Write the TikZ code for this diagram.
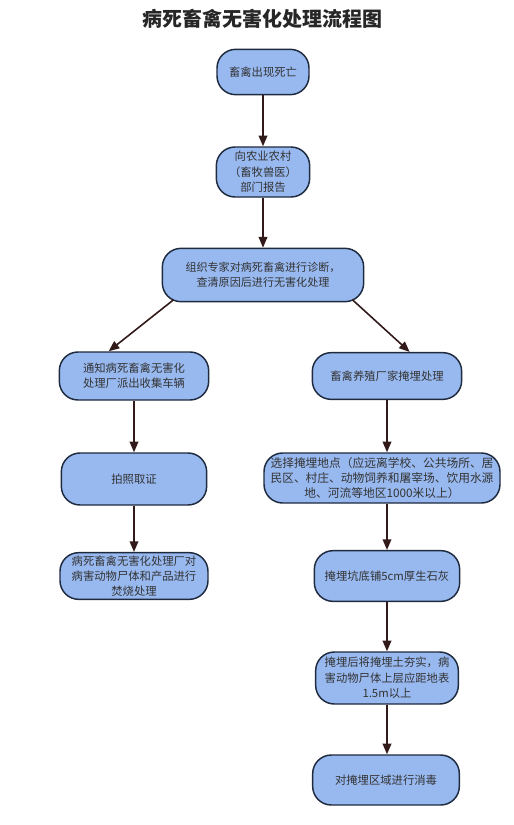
\documentclass[tikz,border=0pt]{standalone}
\usepackage{fontspec}
\newfontfamily\cjk{Noto Sans CJK SC}
\usetikzlibrary{arrows.meta}

\definecolor{boxfill}{HTML}{98B9F0}
\definecolor{boxline}{HTML}{1E2A3E}
\definecolor{arrowline}{HTML}{331A1A}

\begin{document}
\begin{tikzpicture}[x=0.75pt, y=-0.75pt,
    box/.style={draw=boxline, fill=boxfill, line width=1.1pt, rounded corners=14pt,
      inner sep=0pt, align=center, text=black!80,
      font=\cjk\fontsize{8.5}{11.5}\selectfont},
    arr/.style={draw=arrowline, line width=1.2pt, -{Triangle[length=8pt,width=6.5pt]}},
    ]
  \useasboundingbox (0,0) rectangle (514,825);

  \node[font=\cjk\bfseries\fontsize{15}{18}\selectfont, text=black!85] (title) at (262,19) {病死畜禽无害化处理流程图};

  % middle column
  \node[box, minimum width=69pt, minimum height=34pt] (dead) at (263,72) {畜禽出现死亡};
  \node[box, minimum width=70pt, minimum height=37.5pt] (report) at (263,172) {向农业农村\\（畜牧兽医）\\部门报告};
  \node[box, minimum width=151pt, minimum height=40pt, font=\cjk\fontsize{8.3}{11.5}\selectfont] (diag) at (263,275) {组织专家对病死畜禽进行诊断，\\查清原因后进行无害化处理};

  % left column
  \node[box, minimum width=112pt, minimum height=36pt] (notify) at (134,376) {通知病死畜禽无害化\\处理厂派出收集车辆};
  \node[box, minimum width=109pt, minimum height=39pt] (photo) at (134,479) {拍照取证};
  \node[box, minimum width=111pt, minimum height=35pt] (burn) at (134,576) {病死畜禽无害化处理厂对\\病害动物尸体和产品进行\\焚烧处理};

  % right column
  \node[box, minimum width=112pt, minimum height=35pt] (farm) at (387,376) {畜禽养殖厂家掩埋处理};
  \node[box, minimum width=177pt, minimum height=37.5pt, font=\cjk\fontsize{8.8}{11.5}\selectfont] (site) at (382,478) {选择掩埋地点（应远离学校、公共场所、居\\民区、村庄、动物饲养和屠宰场、饮用水源\\地、河流等地区1000米以上）};
  \node[box, minimum width=109pt, minimum height=38pt] (lime) at (387,576) {掩埋坑底铺5cm厚生石灰};
  \node[box, minimum width=107pt, minimum height=39pt] (fill) at (387,678) {掩埋后将掩埋土夯实，病\\害动物尸体上层应距地表\\1.5m以上};
  \node[box, minimum width=110pt, minimum height=37.5pt] (disinf) at (386,780) {对掩埋区域进行消毒};

  \draw[arr] (dead) -- (report);
  \draw[arr] (report) -- (diag);
  \draw[arr] ([xshift=9pt,yshift=2pt]diag.south west) -- ([xshift=-19pt]notify.north);
  \draw[arr] ([xshift=-9pt,yshift=2pt]diag.south east) -- ([xshift=17pt]farm.north);
  \draw[arr] (notify) -- (photo);
  \draw[arr] (photo) -- (burn);
  \draw[arr] (farm.south) -- (site.north -| farm.south);
  \draw[arr] (site.south -| lime.north) -- (lime.north);
  \draw[arr] (lime) -- (fill);
  \draw[arr] (fill.south) -- (disinf.north -| fill.south);
\end{tikzpicture}
\end{document}
